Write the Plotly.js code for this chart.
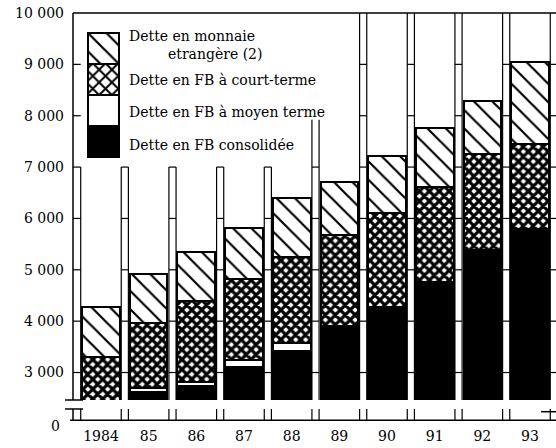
<!DOCTYPE html>
<html>
<head>
<meta charset="utf-8">
<script src="https://cdn.plot.ly/plotly-3.0.1.min.js"></script>
<style>html,body{margin:0;padding:0;background:#fff;}#chart{width:556px;height:448px;}</style>
</head>
<body>
<div id="chart"></div>
<script>
// ---- data (milliards FB) ----
const years = ['1984', '85', '86', '87', '88', '89', '90', '91', '92', '93'];
const consolidee = [1900, 2620, 2740, 3110, 3410, 3900, 4280, 4760, 5390, 5790];
const moyenTerme = [350, 80, 70, 130, 160, 0, 0, 0, 0, 0];
const courtTerme = [1050, 1260, 1590, 1590, 1670, 1780, 1820, 1860, 1870, 1660];
const monnaieEtrangere = [980, 950, 950, 980, 1150, 1020, 1120, 1140, 1030, 1600];
const yTickVals = [3000, 4000, 5000, 6000, 7000, 8000, 9000, 10000];
const yTickText = ['3 000', '4 000', '5 000', '6 000', '7 000', '8 000', '9 000', '10 000'];
const legendLabels = ['Dette en FB consolidée', 'Dette en FB à moyen terme', 'Dette en FB à court-terme', 'Dette en monnaie', 'etrangère (2)'];

const FONT = 'DejaVu Serif';
const xIdx = years.map((_, i) => i);
const yMin = 2056, yMax = 10000;
const breakTop = 2465, breakBot = 2290;

const pat = {
  cons: {color: '#000'},
  moy: {color: '#fff'},
  court: {color: '#fff', pattern: {shape: 'x', fgcolor: '#000', bgcolor: '#fff', size: 7, solidity: 0.7, fillmode: 'replace'}},
  etr: {color: '#fff', pattern: {shape: '\\', fgcolor: '#000', bgcolor: '#fff', size: 13, solidity: 0.17, fillmode: 'replace'}},
  courtKey: {color: '#fff', pattern: {shape: 'x', fgcolor: '#000', bgcolor: '#fff', size: 9, solidity: 0.4, fillmode: 'replace'}}
};
function mk(o, w) { return Object.assign(JSON.parse(JSON.stringify(o)), {line: {color: '#000', width: w}}); }

const traces = [
  {type: 'bar', x: xIdx, y: consolidee, name: legendLabels[0], marker: mk(pat.cons, 2), width: 0.79, showlegend: false, hoverinfo: 'skip'},
  {type: 'bar', x: xIdx, y: moyenTerme, name: legendLabels[1], marker: mk(pat.moy, 2), width: 0.79, showlegend: false, hoverinfo: 'skip'},
  {type: 'bar', x: xIdx, y: courtTerme, name: legendLabels[2], marker: mk(pat.court, 2), width: 0.79, showlegend: false, hoverinfo: 'skip'},
  {type: 'bar', x: xIdx, y: monnaieEtrangere, name: legendLabels[3], marker: mk(pat.etr, 2), width: 0.79, showlegend: false, hoverinfo: 'skip'}
];
// legend key swatches (inset axes)
['cons', 'moy', 'courtKey', 'etr'].forEach(k => {
  traces.push({type: 'bar', x: [0], y: [1], xaxis: 'x2', yaxis: 'y2', width: 1,
    marker: mk(pat[k], 1.2), showlegend: false, hoverinfo: 'skip'});
});

// ---- frame / strips between bars ----
const shapes = [];
const L = (x0, y0, x1, y1, xref, yref, w) => shapes.push({type: 'line', xref: xref, yref: yref, x0: x0, y0: y0, x1: x1, y1: y1, line: {color: '#000', width: w || 1.2}, layer: 'above'});
const yp = v => (v - yMin) / (yMax - yMin);
// mask for axis break
shapes.push({type: 'rect', xref: 'paper', yref: 'y', x0: 0, x1: 1, y0: yMin, y1: breakTop, fillcolor: '#fff', line: {width: 0}, layer: 'above'});
const stripTops = [7000, 7000, 7000, 7000, 7000, 7920, 10000, 10000, 10000, 10000, 10000];
const hw = 0.075;
stripTops.forEach((top, k) => {
  const c = k - 0.5;
  const xl = k === 0 ? -0.587 : c - hw, xr = c + hw;
  const sides = k === 0 ? [xr] : [xl, xr];
  sides.forEach(x => { L(x, breakTop, x, top, 'x', 'y'); L(x, yMin, x, breakBot, 'x', 'y'); });
  const tmax = k === 0 ? 9000 : top;
  yTickVals.forEach(v => { if (v <= tmax && v < 10000) L(xl, v, xr, v, 'x', 'y'); });
});
// axes
L(0, yp(breakTop), 0, 1, 'paper', 'paper', 1.5);
L(0, 0, 0, yp(breakBot), 'paper', 'paper', 1.5);
L(0, 1, 1, 1, 'paper', 'paper', 1.5);
L(-0.006, 0.002, 1, 0.002, 'paper', 'paper', 1.5);
L(-0.0166, yp(breakTop), 0.0207, yp(breakTop), 'paper', 'paper', 1.5);
L(-0.0166, yp(breakBot), 0.0207, yp(breakBot), 'paper', 'paper', 1.5);
L(0.969, yp(2237), 1, yp(2237), 'paper', 'paper', 1.5);

const pxX = px => (px - 73) / 483;
const pxY = py => (421 - py) / 408;
const ann = (text, px, py) => ({text: text, xref: 'paper', yref: 'paper', x: pxX(px), y: pxY(py), xanchor: 'left', yanchor: 'middle', showarrow: false, font: {family: FONT, size: 14, color: '#000'}});
const annotations = [
  ann(legendLabels[3], 127, 36),
  ann(legendLabels[4], 166, 54),
  ann(legendLabels[2], 127, 80),
  ann(legendLabels[1], 127, 112),
  ann(legendLabels[0], 127, 145),
  {text: '0', xref: 'paper', yref: 'paper', x: pxX(62), y: pxY(426), xanchor: 'right', yanchor: 'middle', showarrow: false, font: {family: FONT, size: 14, color: '#000'}}
];

const layout = {
  width: 556, height: 448,
  margin: {l: 73, r: 0, t: 13, b: 27, pad: 0},
  paper_bgcolor: '#fff', plot_bgcolor: '#fff',
  barmode: 'stack', bargap: 0,
  showlegend: false,
  font: {family: FONT, size: 14, color: '#000'},
  xaxis: {range: [-0.587, 9.545], tickvals: xIdx, ticktext: years, ticks: '', showgrid: false, zeroline: false, showline: false, tickfont: {family: FONT, size: 14, color: '#000'}, ticklabelstandoff: 5},
  yaxis: {range: [yMin, yMax], tickvals: yTickVals, ticktext: yTickText, ticks: '', showgrid: false, zeroline: false, showline: false, tickfont: {family: FONT, size: 14, color: '#000'}, ticklabelstandoff: 8},
  xaxis2: {domain: [0.0278, 0.0984], range: [-0.55, 0.55], visible: false, anchor: 'y2', fixedrange: true},
  yaxis2: {domain: [0.6433, 0.9548], range: [-0.05, 4.05], visible: false, anchor: 'x2', fixedrange: true},
  shapes: shapes,
  annotations: annotations
};
Plotly.newPlot('chart', traces, layout, {displayModeBar: false, staticPlot: true});
</script>
</body>
</html>
